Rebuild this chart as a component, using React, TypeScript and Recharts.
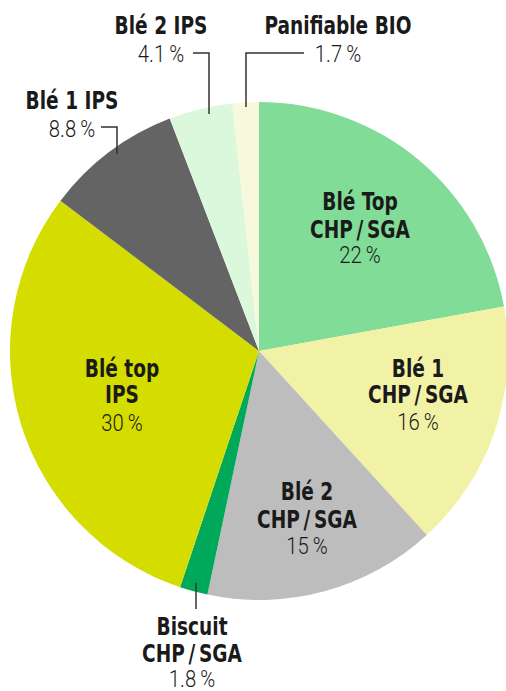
import { PieChart, Pie, Cell } from 'recharts';

const categories = [
  'Blé Top\nCHP\u2009/\u2009SGA',
  'Blé 1\nCHP\u2009/\u2009SGA',
  'Blé 2\nCHP\u2009/\u2009SGA',
  'Biscuit\nCHP\u2009/\u2009SGA',
  'Blé top\nIPS',
  'Blé 1 IPS',
  'Blé 2 IPS',
  'Panifiable BIO',
];
const shares = [22, 16, 15, 1.8, 30, 8.8, 4.1, 1.7];
const colors = ['#80dc96', '#f2f2a6', '#bdbdbd', '#00a85a', '#d4dc00', '#646464', '#dcf8dc', '#f8f8dc'];

const data = categories.map((name, i) => ({ name, value: shares[i] }));

const BOLD_FONT = '"DejaVu Sans Condensed", "DejaVu Sans", sans-serif';
const LIGHT_FONT = 'Roboto, "Open Sans", sans-serif';

// label placement relative to pie centre: x offset, baseline offsets, optional leader line
type LabelPos = { dx: number; dys: number[]; leader?: number[][] };
const labelPos: LabelPos[] = [
  { dx: 101, dys: [-141, -113, -88] },
  { dx: 159, dys: [26, 52, 79] },
  { dx: 48, dys: [149, 177, 203] },
  { dx: -67, dys: [284, 311, 336], leader: [[-63, 232], [-63, 258]] },
  { dx: -137, dys: [26, 52, 80] },
  { dx: -187, dys: [-242, -214], leader: [[-158, -224], [-142, -224], [-142, -197]] },
  { dx: -98, dys: [-317, -289], leader: [[-66, -298], [-50, -298], [-50, -237]] },
  { dx: 79, dys: [-317, -289], leader: [[-13, -244], [-13, -298], [45, -298]] },
];

const renderLabel = (props: any) => {
  const { cx, cy, index } = props;
  const pos = labelPos[index];
  const lines = categories[index].split('\n');
  const value = `${shares[index]}\u2009%`;
  const x = cx + pos.dx;
  return (
    <g key={`lbl-${index}`}>
      {pos.leader && (
        <polyline
          points={pos.leader.map(([lx, ly]) => `${cx + lx},${cy + ly}`).join(' ')}
          fill="none"
          stroke="#333"
          strokeWidth={1.5}
        />
      )}
      {lines.map((ln, j) => (
        <text
          key={j}
          x={0}
          y={0}
          transform={`translate(${x},${cy + pos.dys[j]}) scale(0.86,1)`}
          textAnchor="middle"
          fontFamily={BOLD_FONT}
          fontWeight="bold"
          fontSize={24}
          fill="#1a1a1a"
        >
          {ln}
        </text>
      ))}
      <text
        x={0}
        y={0}
        transform={`translate(${x},${cy + pos.dys[lines.length]}) scale(0.88,1)`}
        textAnchor="middle"
        fontFamily={LIGHT_FONT}
        fontWeight={300}
        fontSize={23}
        fill="#1a1a1a"
      >
        {value}
      </text>
    </g>
  );
};

export default function App() {
  return (
    <div style={{ width: 506, height: 691 }}>
      <style>{`body { margin: 0; background: #fff; }`}</style>
      <PieChart width={506} height={691} margin={{ top: 0, right: 0, bottom: 0, left: 0 }}>
        <Pie
          data={data}
          dataKey="value"
          nameKey="name"
          cx={259}
          cy={351}
          outerRadius={249}
          startAngle={90}
          endAngle={-270}
          stroke="none"
          label={renderLabel}
          labelLine={false}
          isAnimationActive={false}
        >
          {data.map((entry, i) => (
            <Cell key={`cell-${i}`} fill={colors[i]} />
          ))}
        </Pie>
      </PieChart>
    </div>
  );
}
